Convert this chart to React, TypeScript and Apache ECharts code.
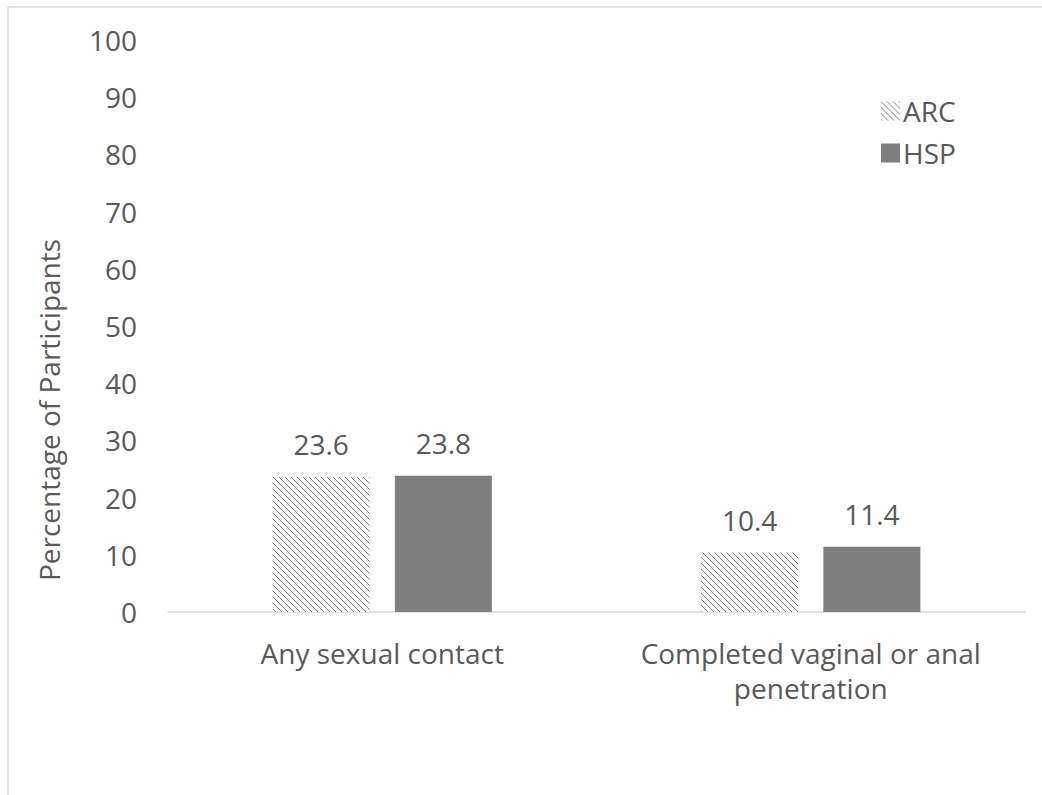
import React, { useEffect, useRef } from "react";
import * as echarts from "echarts";

const categories = ["Any sexual contact", "Completed vaginal or anal\npenetration"];
const arcValues = [23.6, 10.4];
const hspValues = [23.8, 11.4];
const seriesNames = ["ARC", "HSP"];

function makeHatch(): HTMLCanvasElement {
  const c = document.createElement("canvas");
  c.width = 6;
  c.height = 6;
  const ctx = c.getContext("2d")!;
  ctx.fillStyle = "#ffffff";
  ctx.fillRect(0, 0, 6, 6);
  ctx.fillStyle = "#7f7f7f";
  for (let i = 0; i < 6; i++) {
    ctx.fillRect(i, i, 1, 1);
  }
  return c;
}

export default function App() {
  const ref = useRef<HTMLDivElement>(null);
  useEffect(() => {
    if (!ref.current) return;
    const chart = echarts.init(ref.current, null, { renderer: "svg" });
    const font = "'Open Sans', 'Noto Sans', sans-serif";
    const txt = "#595959";
    const fs = 28;
    const hatch = makeHatch();
    chart.setOption({
      animation: false,
      textStyle: { fontFamily: font },
      grid: { left: 168, right: 17, top: 40, bottom: 183, containLabel: false },
      legend: {
        orient: "vertical",
        left: 876,
        top: 92,
        itemWidth: 19,
        itemHeight: 19,
        itemGap: 14,
        icon: "rect",
        textStyle: { fontSize: fs, color: txt, fontFamily: font, padding: [0, 0, 0, -2] },
        data: seriesNames,
      },
      xAxis: {
        type: "category",
        data: categories,
        axisLine: { lineStyle: { color: "#d9d9d9", width: 1.5 } },
        axisTick: { show: false },
        axisLabel: { interval: 0, fontSize: fs, color: txt, margin: 23, lineHeight: 35, fontFamily: font },
      },
      yAxis: {
        type: "value",
        min: 0,
        max: 100,
        interval: 10,
        axisLine: { show: false },
        axisTick: { show: false },
        splitLine: { show: false },
        axisLabel: { fontSize: fs, color: txt, margin: 31, fontFamily: font },
      },
      graphic: [
        { type: "line", shape: { x1: 8, y1: 7, x2: 1042, y2: 7 }, style: { stroke: "#d9d9d9", lineWidth: 1.5 } },
        { type: "line", shape: { x1: 8, y1: 7, x2: 8, y2: 795 }, style: { stroke: "#d9d9d9", lineWidth: 1.5 } },
        {
          type: "text",
          x: 49,
          y: 410,
          rotation: Math.PI / 2,
          style: {
            text: "Percentage of Participants",
            fontSize: fs,
            fill: txt,
            fontFamily: font,
            align: "center",
            verticalAlign: "middle",
          },
        },
      ],
      series: [
        {
          name: seriesNames[0],
          type: "bar",
          data: arcValues,
          barWidth: 97,
          barGap: "26%",
          itemStyle: { color: { image: hatch, repeat: "repeat" } },
          label: { show: true, position: "top", distance: 19, fontSize: fs, color: txt, fontFamily: font },
        },
        {
          name: seriesNames[1],
          type: "bar",
          data: hspValues,
          barWidth: 97,
          barGap: "26%",
          itemStyle: { color: "#7f7f7f" },
          label: { show: true, position: "top", distance: 19, fontSize: fs, color: txt, fontFamily: font },
        },
      ],
    });
    return () => chart.dispose();
  }, []);
  return (
    <div
      ref={ref}
      style={{ position: "fixed", left: 0, top: 0, width: 1042, height: 795, background: "#ffffff" }}
    />
  );
}
